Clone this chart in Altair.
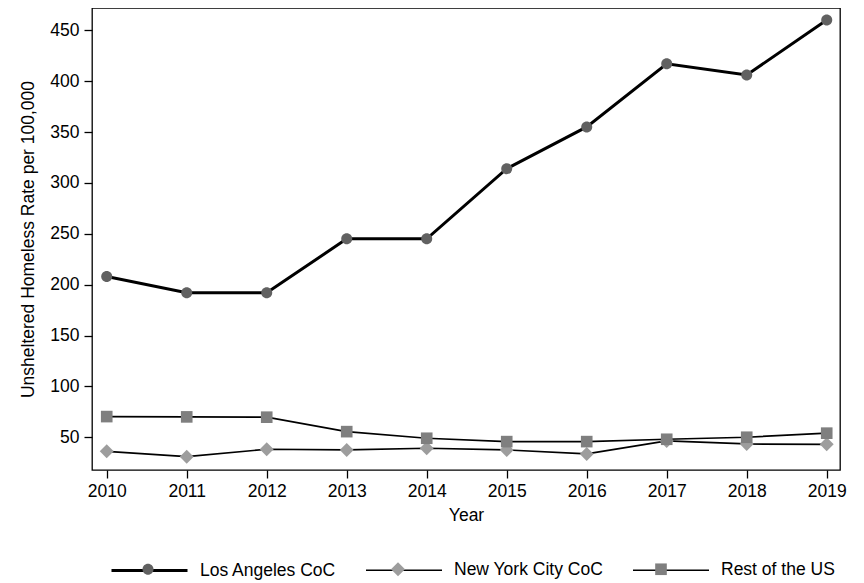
import altair as alt
import pandas as pd

# values
years = [2010, 2011, 2012, 2013, 2014, 2015, 2016, 2017, 2018, 2019]
la_rate = [208, 192, 192, 245, 245, 314, 355, 417, 406, 460]
nyc_rate = [36.2, 30.9, 38.2, 37.5, 39.2, 37.5, 33.6, 46.4, 43.4, 43.0]
rest_rate = [70.3, 70.0, 69.7, 55.5, 49.0, 45.7, 45.7, 48.0, 50.0, 54.0]

series_names = ["Los Angeles CoC", "New York City CoC", "Rest of the US"]
y_ticks = [50, 100, 150, 200, 250, 300, 350, 400, 450]

# styling (Stata s2mono-ish look)
line_widths = [3, 1.7, 1.7]
marker_fills = ["#616161", "#9d9d9d", "#7f7f7f"]
# marker shapes as custom paths; the leading moveTo's only widen the bounds so the
# marker legend lays out exactly like the line legend drawn under it
marker_paths = [
    "M-1.04,0M1.04,0M0.145,0A0.145,0.145,0,1,1,-0.145,0A0.145,0.145,0,1,1,0.145,0Z",
    "M-1.022,0M1.022,0M0,-0.184L0.184,0L0,0.184L-0.184,0Z",
    "M-1.022,0M1.022,0M-0.153,-0.153L0.153,-0.153L0.153,0.153L-0.153,0.153Z",
]
FONT = "Liberation Sans"
FS = 17.5
SYM = 5776  # 76px legend symbol

rows = []
for name, vals in zip(series_names, [la_rate, nyc_rate, rest_rate]):
    for yr, v in zip(years, vals):
        rows.append({"year": yr, "series": name, "series_m": name, "rate": v})
df = pd.DataFrame(rows)

x_enc = alt.X(
    "year:Q",
    title="Year",
    scale=alt.Scale(domain=[2009.816, 2019.166], nice=False, zero=False),
    axis=alt.Axis(values=years, format="d", labelPadding=4, titlePadding=7),
)
y_enc = alt.Y(
    "rate:Q",
    title="Unsheltered Homeless Rate per 100,000",
    scale=alt.Scale(domain=[17.8, 471.9], nice=False, zero=False),
    axis=alt.Axis(values=y_ticks, labelPadding=5, titlePadding=12),
)

legend_common = dict(
    orient="none",
    legendX=18,
    legendY=523,
    direction="horizontal",
    title=None,
    symbolSize=SYM,
    labelOffset=11,
    columnPadding=25,
    padding=0,
    labelFont=FONT,
    labelFontSize=FS,
)

line_legend = alt.Legend(symbolType="stroke", labelColor="black", **legend_common)
marker_legend = alt.Legend(
    labelColor="transparent", labelOpacity=0, symbolStrokeWidth=0, symbolOpacity=1, **legend_common
)

lines = (
    alt.Chart(df)
    .mark_line()
    .encode(
        x=x_enc,
        y=y_enc,
        stroke=alt.Stroke(
            "series:N",
            scale=alt.Scale(range=["black", "black", "black"]),
            legend=line_legend,
        ),
        strokeWidth=alt.StrokeWidth(
            "series:N",
            scale=alt.Scale(type="ordinal", range=line_widths),
            legend=line_legend,
        ),
    )
)

points = (
    alt.Chart(df)
    .mark_point(filled=True, size=SYM, opacity=1, strokeWidth=0)
    .encode(
        x=x_enc,
        y=y_enc,
        fill=alt.Fill("series_m:N", scale=alt.Scale(range=marker_fills), legend=marker_legend),
        shape=alt.Shape("series_m:N", scale=alt.Scale(range=marker_paths), legend=marker_legend),
    )
)

chart = (
    alt.layer(lines, points)
    .properties(
        width=748,
        height=462,
        autosize=alt.AutoSizeParams(type="none"),
        padding={"left": 84, "top": 0, "right": 16, "bottom": 110},
        background="white",
    )
    .configure_view(stroke="black", strokeWidth=1.3)
    .configure_axis(
        domain=False,
        grid=False,
        ticks=True,
        tickSize=8,
        tickWidth=1.3,
        tickColor="black",
        labelFont=FONT,
        labelFontSize=FS,
        labelColor="black",
        titleFont=FONT,
        titleFontSize=FS,
        titleFontWeight="normal",
        titleColor="black",
    )
    .configure_axisY(labelAngle=0)
)

chart.save("out.html", embed_options={"renderer": "svg", "actions": False})
